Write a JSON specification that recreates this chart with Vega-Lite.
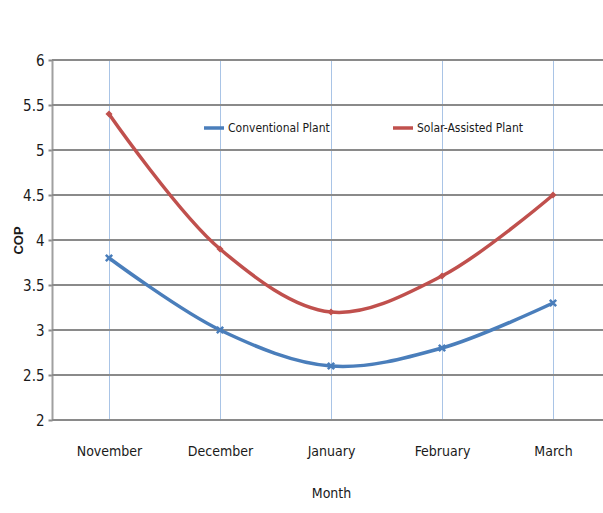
{
  "$schema": "https://vega.github.io/schema/vega-lite/v6.json",
  "width": 551,
  "height": 360,
  "autosize": {"type": "none"},
  "padding": {"left": 52, "top": 60, "right": 0, "bottom": 93},
  "background": "white",
  "config": {
    "view": {"stroke": null},
    "font": "DejaVu Sans Condensed, Liberation Sans, sans-serif",
    "axis": {
      "labelFont": "DejaVu Sans Condensed, Liberation Sans, sans-serif",
      "titleFont": "DejaVu Sans Condensed, Liberation Sans, sans-serif",
      "labelColor": "#1a1a1a",
      "titleColor": "#1a1a1a"
    }
  },
  "data": {
    "values": [
      {"Month": "November", "Plant": "Conventional Plant", "COP": 3.8},
      {"Month": "December", "Plant": "Conventional Plant", "COP": 3.0},
      {"Month": "January", "Plant": "Conventional Plant", "COP": 2.6},
      {"Month": "February", "Plant": "Conventional Plant", "COP": 2.8},
      {"Month": "March", "Plant": "Conventional Plant", "COP": 3.3},
      {"Month": "November", "Plant": "Solar-Assisted Plant", "COP": 5.4},
      {"Month": "December", "Plant": "Solar-Assisted Plant", "COP": 3.9},
      {"Month": "January", "Plant": "Solar-Assisted Plant", "COP": 3.2},
      {"Month": "February", "Plant": "Solar-Assisted Plant", "COP": 3.6},
      {"Month": "March", "Plant": "Solar-Assisted Plant", "COP": 4.5}
    ]
  },
  "encoding": {
    "x": {
      "field": "Month",
      "type": "ordinal",
      "sort": ["November", "December", "January", "February", "March"],
      "scale": {"type": "point", "range": [57, 501], "padding": 0},
      "axis": {
        "title": "Month",
        "titleFontSize": 14,
        "titleFontWeight": "normal",
        "titlePadding": 28,
        "labelFontSize": 14,
        "labelAngle": 0,
        "labelPadding": 24,
        "ticks": false,
        "domain": false,
        "grid": true,
        "gridColor": "#a9c4e6",
        "gridWidth": 1
      }
    },
    "y": {
      "field": "COP",
      "type": "quantitative",
      "scale": {"domain": [2, 6], "nice": false},
      "axis": {
        "title": "COP",
        "titleFontSize": 13,
        "titleFontWeight": "bold",
        "titleFont": "Liberation Sans",
        "titleX": -34,
        "titleY": 180,
        "titleAngle": -90,
        "titleAlign": "center",
        "titleBaseline": "middle",
        "labelFontSize": 15,
        "labelPadding": 4,
        "values": [2, 2.5, 3, 3.5, 4, 4.5, 5, 5.5, 6],
        "labelExpr": "datum.value",
        "tickSize": 4,
        "tickColor": "#8a8a8a",
        "tickWidth": 2,
        "domainColor": "#a0a0a0",
        "domainWidth": 2,
        "grid": false
      }
    }
  },
  "layer": [
    {
      "data": {"values": [{"COP": 2}, {"COP": 2.5}, {"COP": 3}, {"COP": 3.5}, {"COP": 4}, {"COP": 4.5}, {"COP": 5}, {"COP": 5.5}, {"COP": 6}]},
      "mark": {"type": "rule", "color": "#8a8a8a", "strokeWidth": 2},
      "encoding": {"x": null, "y": {"field": "COP", "type": "quantitative"}}
    },
    {
      "mark": {"type": "line", "interpolate": "catmull-rom", "strokeWidth": 3.5},
      "encoding": {
        "color": {
          "field": "Plant",
          "type": "nominal",
          "scale": {
            "domain": ["Conventional Plant", "Solar-Assisted Plant"],
            "range": ["#4a7ebb", "#c0504d"]
          },
          "legend": {
            "title": null,
            "orient": "none",
            "legendX": 150,
            "legendY": 56,
            "direction": "horizontal",
            "symbolType": "stroke",
            "symbolSize": 400,
            "symbolStrokeWidth": 3.5,
            "labelFont": "DejaVu Sans Condensed, Liberation Sans, sans-serif",
            "labelFontSize": 12,
            "labelColor": "#1a1a1a",
            "labelOffset": 2,
            "columnPadding": 56
          }
        }
      }
    },
    {
      "transform": [{"filter": "datum.Plant === 'Conventional Plant'"}],
      "mark": {"type": "point", "filled": false, "size": 40, "strokeWidth": 2.5, "opacity": 1, "color": "#4a7ebb", "shape": "M-1,-1L1,1M-1,1L1,-1"}
    },
    {
      "transform": [{"filter": "datum.Plant === 'Solar-Assisted Plant'"}],
      "mark": {"type": "point", "filled": true, "size": 50, "opacity": 1, "color": "#c0504d", "shape": "diamond"}
    }
  ]
}
